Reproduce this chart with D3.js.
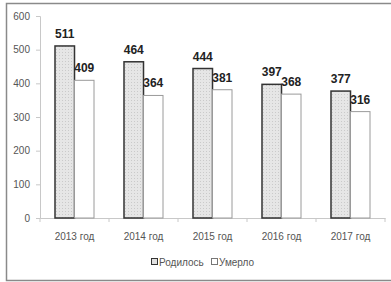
<!DOCTYPE html>
<html>
<head>
<meta charset="utf-8">
<script src="https://cdn.jsdelivr.net/npm/d3@7"></script>
<style>
  body { margin: 0; background: #fff; }
  svg { display: block; }
</style>
</head>
<body>
<script>
// chart data
var years = ['2013 год', '2014 год', '2015 год', '2016 год', '2017 год'];
var born = [511, 464, 444, 397, 377];
var died = [409, 364, 381, 368, 316];
var seriesNames = ['Родилось', 'Умерло'];
var yTicks = [0, 100, 200, 300, 400, 500, 600];

var W = 391, H = 282;
var FONT = "'Liberation Sans Narrow', 'Liberation Sans', Arial, sans-serif";

var svg = d3.select('body').append('svg')
  .attr('width', W)
  .attr('height', H);

// dotted fill for the "born" bars
var defs = svg.append('defs');
var pat = defs.append('pattern')
  .attr('id', 'dots')
  .attr('width', 3).attr('height', 3)
  .attr('patternUnits', 'userSpaceOnUse');
pat.append('rect').attr('width', 3).attr('height', 3).attr('fill', '#e6e6e6');
pat.append('rect').attr('x', 1).attr('y', 1).attr('width', 1).attr('height', 1).attr('fill', '#cacaca');

// outer frame (right edge runs off the picture)
svg.append('rect')
  .attr('x', 6.5).attr('y', 3.5)
  .attr('width', W + 10).attr('height', 277)
  .attr('fill', 'none')
  .attr('stroke', '#8a8a8a')
  .attr('stroke-width', 1.5);

var x0 = d3.scaleBand().domain(years).range([40, 385]).paddingInner(0).paddingOuter(0);
var x1 = d3.scaleBand().domain([0, 1]).range([15, 54]);
var y = d3.scaleLinear().domain([0, 600]).range([218, 16]);

// y axis
var yAxis = svg.append('g')
  .attr('transform', 'translate(40,0)')
  .call(d3.axisLeft(y).tickValues(yTicks).tickSize(4).tickPadding(6));
yAxis.select('.domain').attr('stroke', '#c8c8c8');
yAxis.selectAll('line').attr('stroke', '#c8c8c8');
yAxis.selectAll('text')
  .attr('font-family', FONT)
  .attr('font-size', '10px')
  .attr('fill', '#555');

// x axis
var xAxis = svg.append('g')
  .attr('transform', 'translate(0,218)')
  .call(d3.axisBottom(x0).tickSize(0).tickPadding(15));
xAxis.select('.domain').attr('stroke', '#c8c8c8');
xAxis.selectAll('text')
  .attr('font-family', FONT)
  .attr('font-size', '10px')
  .attr('fill', '#555');
// category separators
svg.selectAll('.sep')
  .data(years.concat(['end']))
  .enter().append('line')
  .attr('class', 'sep')
  .attr('x1', function(d, i) { return 40 + i * x0.bandwidth(); })
  .attr('x2', function(d, i) { return 40 + i * x0.bandwidth(); })
  .attr('y1', 218).attr('y2', 222)
  .attr('stroke', '#c8c8c8');

// bars
var groups = svg.selectAll('.grp')
  .data(years)
  .enter().append('g')
  .attr('class', 'grp')
  .attr('transform', function(d) { return 'translate(' + x0(d) + ',0)'; });

groups.append('rect')
  .attr('x', x1(0))
  .attr('width', x1.bandwidth())
  .attr('y', function(d, i) { return y(born[i]); })
  .attr('height', function(d, i) { return y(0) - y(born[i]); })
  .attr('fill', 'url(#dots)')
  .attr('stroke', '#333')
  .attr('stroke-width', 1.5);

groups.append('rect')
  .attr('x', x1(1))
  .attr('width', x1.bandwidth())
  .attr('y', function(d, i) { return y(died[i]); })
  .attr('height', function(d, i) { return y(0) - y(died[i]); })
  .attr('fill', '#fff')
  .attr('stroke', '#9a9a9a')
  .attr('stroke-width', 1);

// value labels
groups.append('text')
  .attr('x', x1(0) + x1.bandwidth() / 2)
  .attr('y', function(d, i) { return y(born[i]) - 8; })
  .attr('text-anchor', 'middle')
  .attr('font-family', FONT)
  .attr('font-weight', 'bold')
  .attr('font-size', '12px')
  .attr('fill', '#222')
  .text(function(d, i) { return born[i]; });

groups.append('text')
  .attr('x', x1(1) + x1.bandwidth() / 2)
  .attr('y', function(d, i) { return y(died[i]) - 8; })
  .attr('text-anchor', 'middle')
  .attr('font-family', FONT)
  .attr('font-weight', 'bold')
  .attr('font-size', '12px')
  .attr('fill', '#222')
  .text(function(d, i) { return died[i]; });

// legend
var legX = [151, 211];
var leg = svg.selectAll('.leg')
  .data(seriesNames)
  .enter().append('g')
  .attr('class', 'leg')
  .attr('transform', function(d, i) { return 'translate(' + legX[i] + ',258)'; });
leg.append('rect')
  .attr('x', 0.5).attr('y', 0.5)
  .attr('width', 6).attr('height', 6)
  .attr('fill', function(d, i) { return i === 0 ? '#e0e0e0' : '#fff'; })
  .attr('stroke', function(d, i) { return i === 0 ? '#333' : '#777'; })
  .attr('stroke-width', 1);
leg.append('text')
  .attr('x', 8)
  .attr('y', 7.5)
  .attr('font-family', FONT)
  .attr('font-size', '10px')
  .attr('fill', '#555')
  .text(function(d) { return d; });
</script>
</body>
</html>
